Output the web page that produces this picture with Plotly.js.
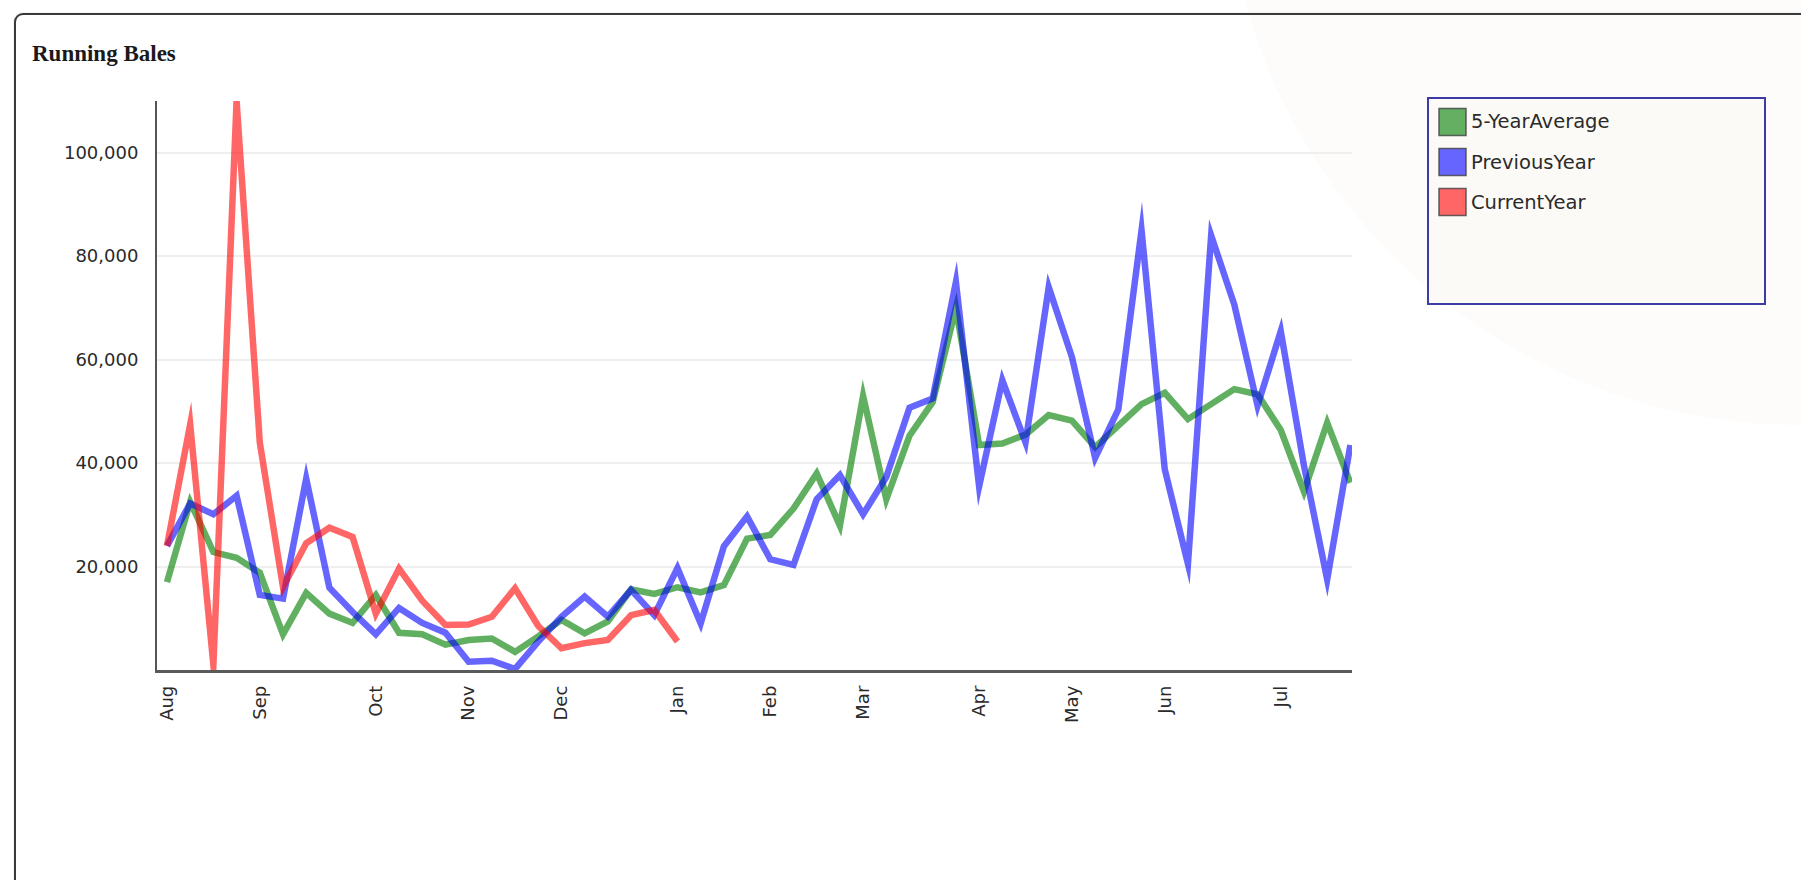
<!DOCTYPE html>
<html>
<head>
<meta charset="utf-8">
<script src="https://cdn.plot.ly/plotly-3.0.1.min.js"></script>
<style>
  html, body { margin: 0; padding: 0; background: #ffffff; overflow: hidden; }
  #wrap { position: relative; width: 1801px; height: 880px; overflow: hidden; }
  #chart { position: absolute; left: 0; top: 0; width: 1801px; height: 880px; }
  #frame { position: absolute; left: 14px; top: 13px; width: 1900px; height: 1000px;
           border: 2px solid #3a3a3a; border-radius: 9px; pointer-events: none;
           box-shadow: 0 0 1px rgba(0,0,0,0.4); }
  #chart .scatterlayer path.js-line { stroke-linejoin: miter; stroke-miterlimit: 30; }
</style>
</head>
<body>
<div id="wrap">
  <div id="chart"></div>
  <div id="frame"></div>
</div>
<script>
// ---- data ----
const chartTitle = 'Running Bales';
const seriesNames = ['5-YearAverage', 'PreviousYear', 'CurrentYear'];

// weekly positions (week number from the start of August)
const weeks = [0,1,2,3,4,5,6,7,8,9,10,11,12,13,14,15,16,17,18,19,20,21,22,23,24,25,
               26,27,28,29,30,31,32,33,34,35,36,37,38,39,40,41,42,43,44,45,46,47,48,49,50,51];

const fiveYearAverage = [17000, 32500, 22800, 21700, 18800, 6900, 14900, 10900, 9100, 14500,
  7200, 6900, 4900, 5800, 6100, 3500, 6500, 9700, 7100, 9400,
  15600, 14700, 16000, 15000, 16400, 25400, 26100, 31200, 38000, 27900,
  53000, 33000, 45300, 51800, 70000, 43500, 43800, 45500, 49300, 48200,
  43100, 47100, 51400, 53600, 48500, 51400, 54300, 53300, 46400, 34500,
  47800, 36200];

const previousYear = [24000, 32200, 30100, 33700, 14500, 13800, 37000, 15900, 11200, 6900,
  12000, 9100, 7200, 1600, 1800, 200, 5500, 10300, 14200, 10300,
  15500, 10600, 19700, 9000, 23900, 29700, 21400, 20300, 33000, 37700,
  30100, 37300, 50700, 52500, 75000, 35500, 56000, 44000, 74000, 60500,
  41000, 50400, 85000, 38800, 20500, 84000, 70600, 51100, 65500, 39500,
  17500, 43500];

const currentYear = [24000, 47500, 1000, 110000, 44000, 16000, 24500, 27500, 25700, 10900,
  19600, 13400, 8700, 8800, 10300, 15800, 8500, 4200, 5200, 5800,
  10600, 11600, 5500];

const monthLabels = ['Aug','Sep','Oct','Nov','Dec','Jan','Feb','Mar','Apr','May','Jun','Jul'];
const monthWeeks  = [0, 4, 9, 13, 17, 22, 26, 30, 35, 39, 43, 48];

const yTickValues = [20000, 40000, 60000, 80000, 100000];
const yTickLabels = ['20,000', '40,000', '60,000', '80,000', '100,000'];

// ---- styling ----
const lineColors  = ['rgba(0,128,0,0.62)', 'rgba(0,0,255,0.6)', 'rgba(255,0,0,0.6)'];
const swatchColors = ['#63b063', '#6666ff', '#ff6666'];
const seriesData = [fiveYearAverage, previousYear, currentYear];

const W = 1801, H = 880;
const M = { l: 157, r: 449, t: 101, b: 210 };
const PW = W - M.l - M.r, PH = H - M.t - M.b;
const px = x => (x - M.l) / PW;        // pixel -> paper x
const py = y => (H - M.b - y) / PH;    // pixel -> paper y

const traces = seriesData.map((vals, i) => ({
  type: 'scatter',
  mode: 'lines',
  name: seriesNames[i],
  x: weeks.slice(0, vals.length),
  y: vals,
  line: { color: lineColors[i], width: 6.5 },
  showlegend: false,
  hoverinfo: 'skip'
}));

// custom legend (box, swatches, labels)
const shapes = [
  // faint watermark circle in the background
  { type: 'circle', xref: 'paper', yref: 'paper', layer: 'below',
    x0: px(1225), x1: px(2375), y0: py(425), y1: py(-725),
    fillcolor: 'rgba(238,234,222,0.14)', line: { width: 0 } },
  { type: 'rect', xref: 'paper', yref: 'paper', layer: 'above',
    x0: px(1428), x1: px(1765), y0: py(304), y1: py(98),
    fillcolor: '#fcfaf6', line: { color: '#3c3ca6', width: 2 } }
];
const annotations = [];
const rowCenters = [122, 162, 202];
seriesNames.forEach((nm, i) => {
  const c = rowCenters[i];
  shapes.push({ type: 'rect', xref: 'paper', yref: 'paper', layer: 'above',
    x0: px(1439), x1: px(1466), y0: py(c + 13.5), y1: py(c - 13.5),
    fillcolor: swatchColors[i], line: { color: 'rgba(70,70,70,0.85)', width: 1.5 } });
  annotations.push({ xref: 'paper', yref: 'paper', x: px(1469), y: py(c),
    xanchor: 'left', yanchor: 'middle', showarrow: false, text: nm,
    font: { family: 'DejaVu Sans', size: 19.5, color: '#2a2a2a' } });
});

const layout = {
  width: W, height: H,
  margin: M,
  paper_bgcolor: '#ffffff',
  plot_bgcolor: 'rgba(0,0,0,0)',
  showlegend: false,
  title: {
    text: '<b>' + chartTitle + '</b>',
    font: { family: 'Liberation Serif', size: 23, color: '#1a1a1a' },
    xref: 'container', yref: 'container',
    x: 32 / W, xanchor: 'left',
    y: 1 - 53 / H, yanchor: 'middle'
  },
  xaxis: {
    range: [-0.43, 51.07],
    tickmode: 'array', tickvals: monthWeeks, ticktext: monthLabels,
    tickangle: -90,
    ticks: '', showgrid: false, zeroline: false,
    showline: true, linecolor: '#5a5a5a', linewidth: 2.5,
    tickfont: { family: 'DejaVu Sans', size: 18, color: '#2a2a2a' },
    ticklabelstandoff: 6,
    fixedrange: true
  },
  yaxis: {
    range: [0, 110000],
    tickmode: 'array', tickvals: yTickValues, ticktext: yTickLabels,
    ticks: '', zeroline: false,
    showgrid: true, gridcolor: '#efefef', gridwidth: 2,
    showline: true, linecolor: '#555', linewidth: 2,
    tickfont: { family: 'DejaVu Sans', size: 18, color: '#2a2a2a' },
    ticklabelstandoff: 13,
    fixedrange: true
  },
  shapes: shapes,
  annotations: annotations
};

Plotly.newPlot('chart', traces, layout, { displayModeBar: false, staticPlot: true });
</script>
</body>
</html>
